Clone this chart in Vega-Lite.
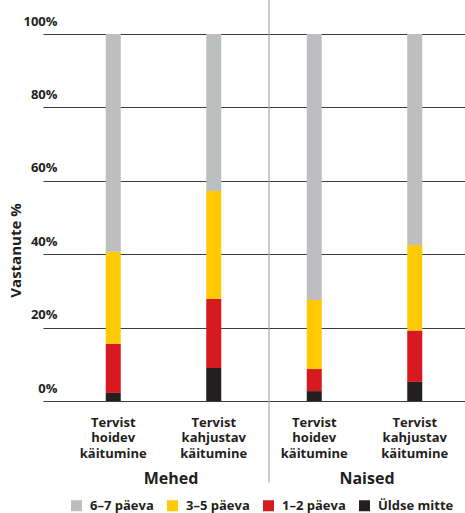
{
  "$schema": "https://vega.github.io/schema/vega-lite/v6.json",
  "width": 422,
  "height": 367,
  "autosize": {"type": "none"},
  "padding": {"left": 43, "top": 34, "right": 0, "bottom": 112},
  "background": "white",
  "config": {
    "font": "Open Sans",
    "view": {"stroke": null},
    "axis": {"labelFont": "Open Sans", "titleFont": "Open Sans", "labelFontWeight": "bold", "titleFontWeight": "bold", "labelColor": "#231f20", "titleColor": "#231f20"},
    "legend": {"labelFont": "Open Sans", "labelFontWeight": "bold", "labelColor": "#231f20"}
  },
  "layer": [
    {
      "data": {"values": [
        {"veerg": "Mehed: Tervist hoidev käitumine", "sagedus": "Üldse mitte", "jrk": 1, "protsent": 2.2},
        {"veerg": "Mehed: Tervist hoidev käitumine", "sagedus": "1–2 päeva", "jrk": 2, "protsent": 13.4},
        {"veerg": "Mehed: Tervist hoidev käitumine", "sagedus": "3–5 päeva", "jrk": 3, "protsent": 25.1},
        {"veerg": "Mehed: Tervist hoidev käitumine", "sagedus": "6–7 päeva", "jrk": 4, "protsent": 59.3},
        {"veerg": "Mehed: Tervist kahjustav käitumine", "sagedus": "Üldse mitte", "jrk": 1, "protsent": 9.0},
        {"veerg": "Mehed: Tervist kahjustav käitumine", "sagedus": "1–2 päeva", "jrk": 2, "protsent": 18.8},
        {"veerg": "Mehed: Tervist kahjustav käitumine", "sagedus": "3–5 päeva", "jrk": 3, "protsent": 29.4},
        {"veerg": "Mehed: Tervist kahjustav käitumine", "sagedus": "6–7 päeva", "jrk": 4, "protsent": 42.8},
        {"veerg": "Naised: Tervist hoidev käitumine", "sagedus": "Üldse mitte", "jrk": 1, "protsent": 2.7},
        {"veerg": "Naised: Tervist hoidev käitumine", "sagedus": "1–2 päeva", "jrk": 2, "protsent": 6.0},
        {"veerg": "Naised: Tervist hoidev käitumine", "sagedus": "3–5 päeva", "jrk": 3, "protsent": 18.8},
        {"veerg": "Naised: Tervist hoidev käitumine", "sagedus": "6–7 päeva", "jrk": 4, "protsent": 72.5},
        {"veerg": "Naised: Tervist kahjustav käitumine", "sagedus": "Üldse mitte", "jrk": 1, "protsent": 5.2},
        {"veerg": "Naised: Tervist kahjustav käitumine", "sagedus": "1–2 päeva", "jrk": 2, "protsent": 14.0},
        {"veerg": "Naised: Tervist kahjustav käitumine", "sagedus": "3–5 päeva", "jrk": 3, "protsent": 23.3},
        {"veerg": "Naised: Tervist kahjustav käitumine", "sagedus": "6–7 päeva", "jrk": 4, "protsent": 57.5}
      ]},
      "mark": {"type": "bar", "size": 15},
      "encoding": {
        "x": {
          "field": "veerg", "type": "nominal", "sort": null,
          "scale": {"paddingInner": 0, "paddingOuter": 0.0995, "align": 1},
          "axis": {"title": null, "orient": "bottom", "domain": false, "ticks": false, "grid": false,
            "labelExpr": "split(split(datum.label, ': ')[1], ' ')",
            "labelAngle": 0, "labelAlign": "center", "labelFontSize": 13, "labelPadding": 25,
            "labelBaseline": "alphabetic", "labelLineHeight": 15.8, "labelLimit": 0}
        },
        "y": {
          "field": "protsent", "type": "quantitative", "stack": "zero",
          "scale": {"domain": [0, 100], "nice": false},
          "axis": {"title": "Vastanute %", "values": [0, 20, 40, 60, 80, 100], "labelExpr": "datum.value + '%'",
            "grid": true, "gridColor": "#3c3c3c", "gridWidth": 1.2, "domain": false, "ticks": false, "tickSize": 0,
            "labelAlign": "right", "labelPadding": -14, "labelBaseline": "alphabetic", "labelOffset": -9,
            "labelFontSize": 13, "titleFontSize": 15, "titleX": -28, "titleY": 216, "titleBaseline": "middle", "titleAlign": "center", "titleAngle": -90}
        },
        "color": {
          "field": "sagedus", "type": "nominal",
          "scale": {"domain": ["6–7 päeva", "3–5 päeva", "1–2 päeva", "Üldse mitte"], "range": ["#bcbec0", "#ffc906", "#d71920", "#231f20"]},
          "legend": {"title": null, "orient": "none", "legendX": 27, "legendY": 465, "direction": "horizontal",
            "gridAlign": "all", "symbolType": "square", "symbolSize": 121, "symbolStrokeWidth": 0,
            "labelFontSize": 13, "labelOffset": 7, "columnPadding": -3, "labelLimit": 0}
        },
        "order": {"field": "jrk", "type": "quantitative", "sort": "ascending"}
      }
    },
    {
      "data": {"values": [{"sugu": "Naised"}]},
      "mark": {"type": "rule", "color": "#a8a8a8", "strokeWidth": 1.2},
      "encoding": {
        "x": {
          "field": "sugu", "type": "nominal", "bandPosition": 0,
          "scale": {"type": "band", "domain": ["Mehed", "Naised"], "paddingInner": 0, "paddingOuter": 0.0765, "align": 1},
          "axis": {"title": null, "orient": "bottom", "domain": false, "ticks": false, "grid": false,
            "labelAngle": 0, "labelAlign": "center", "labelFontSize": 16, "labelPadding": 82, "labelBaseline": "alphabetic"}
        },
        "y": {"datum": 109.3, "type": "quantitative", "scale": {"domain": [0, 100], "nice": false}},
        "y2": {"datum": -22.3}
      }
    }
  ],
  "resolve": {"scale": {"x": "independent"}, "axis": {"x": "independent"}}
}
